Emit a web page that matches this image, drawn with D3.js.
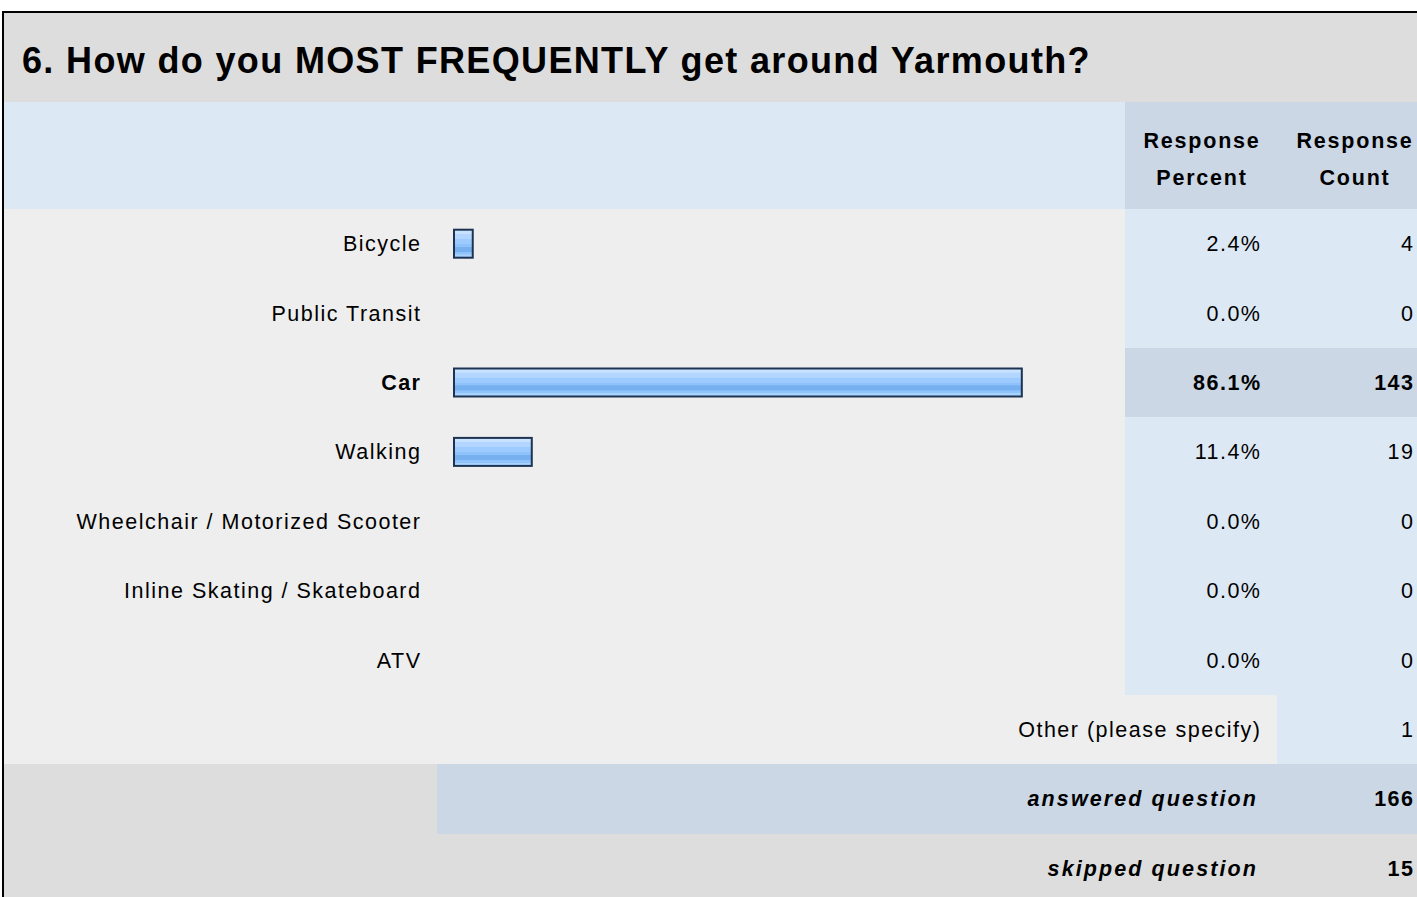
<!DOCTYPE html>
<html>
<head>
<meta charset="utf-8">
<script src="https://cdn.jsdelivr.net/npm/d3@7"></script>
<style>
  html, body { margin: 0; padding: 0; background: #ffffff; overflow: hidden; }
  svg { display: block; font-family: Helvetica, "Liberation Sans", Arial, sans-serif; }
  rect.bg { shape-rendering: crispEdges; }
</style>
</head>
<body>
<script>
// Survey question and answer data
const questionTitle = "6. How do you MOST FREQUENTLY get around Yarmouth?";
const categories = ["Bicycle", "Public Transit", "Car", "Walking",
  "Wheelchair / Motorized Scooter", "Inline Skating / Skateboard", "ATV"];
const percents = [2.4, 0.0, 86.1, 11.4, 0.0, 0.0, 0.0];
const counts = [4, 0, 143, 19, 0, 0, 0];
const columnHeaders = [["Response", "Percent"], ["Response", "Count"]];
const otherLabel = "Other (please specify)";
const otherCount = 1;
const answeredCount = 166;
const skippedCount = 15;

(function draw() {
  const W = 1417, H = 897;
  const svg = d3.select("body").append("svg").attr("width", W).attr("height", H);

  // Colours
  const C = {
    frame: "#000000",
    titleBg: "#dddddd",
    headBg: "#dde8f5",
    headCol: "#cbd7e5",
    rowBg: "#eeeeee",
    cellBg: "#dde8f5",
    cellHi: "#cbd7e5",
    text: "#000000",
    barStroke: "#1d3352"
  };

  // Layout
  const padL = 4, padT = 13, wide = 1440;
  const titleBottom = 102, headBottom = 209;
  const labelRight = 420, barX0 = 453;
  const pctX0 = 1125, cntX0 = 1277;
  const pctRight = 1260, cntRight = 1413;
  const fs = 21.5, ls = 1.5;

  // Row scale: seven categories, then "other", "answered", "skipped"
  const rowKeys = categories.concat(["__other", "__answered", "__skipped"]);
  const y = d3.scaleBand().domain(rowKeys).range([headBottom, headBottom + rowKeys.length * 69.4]);
  // Bar length scale (percent)
  const x = d3.scaleLinear().domain([0, 100]).range([0, 656]);

  const bg = (sel) => sel.append("rect").attr("class", "bg");

  // Bar gradient
  const defs = svg.append("defs");
  const grad = defs.append("linearGradient").attr("id", "barGrad")
    .attr("x1", 0).attr("y1", 0).attr("x2", 0).attr("y2", 1);
  [[0, "#c8e2ff"], [0.14, "#c8e2ff"], [0.15, "#b2d6ff"], [0.32, "#b2d6ff"], [0.33, "#9ecbff"],
   [0.5, "#9ecbff"], [0.51, "#90c3fc"], [0.6, "#90c3fc"], [0.61, "#76b0ef"], [0.78, "#76b0ef"],
   [0.79, "#8fc3fb"], [0.88, "#8fc3fb"], [0.89, "#a8d3ff"], [1, "#a8d3ff"]]
    .forEach(([o, c]) => grad.append("stop").attr("offset", o).attr("stop-color", c));

  // Frame
  bg(svg).attr("x", 2).attr("y", 11).attr("width", wide).attr("height", H).attr("fill", C.frame);

  // Title band
  bg(svg).attr("x", padL).attr("y", padT).attr("width", wide).attr("height", titleBottom - padT)
    .attr("fill", C.titleBg);
  svg.append("text").attr("x", 22).attr("y", 73)
    .attr("font-size", 36).attr("font-weight", "bold").attr("letter-spacing", 1.35)
    .attr("fill", C.text).text(questionTitle);

  // Header band
  bg(svg).attr("x", padL).attr("y", titleBottom).attr("width", wide).attr("height", headBottom - titleBottom)
    .attr("fill", C.headBg);
  bg(svg).attr("x", pctX0).attr("y", titleBottom).attr("width", wide).attr("height", headBottom - titleBottom)
    .attr("fill", C.headCol);
  const colCenters = [(pctX0 + cntX0) / 2, 1354];
  columnHeaders.forEach((lines, i) => {
    lines.forEach((t, j) => {
      svg.append("text").attr("x", colCenters[i] + 1).attr("y", 148 + j * 37)
        .attr("text-anchor", "middle").attr("font-size", fs).attr("font-weight", "bold")
        .attr("letter-spacing", 1.8).attr("fill", C.text).text(t);
    });
  });

  // Category rows
  const rows = svg.append("g").selectAll("g").data(categories.map((c, i) => ({
    name: c, pct: percents[i], count: counts[i]
  }))).join("g");
  const maxCount = d3.max(counts);
  const bh = y.bandwidth();
  const mid = d => y(d.name) + bh / 2;
  const weight = d => d.count === maxCount ? "bold" : "normal";

  bg(rows).attr("x", padL).attr("y", d => y(d.name)).attr("width", pctX0 - padL)
    .attr("height", bh + 1).attr("fill", C.rowBg);
  bg(rows).attr("x", pctX0).attr("y", d => y(d.name)).attr("width", wide)
    .attr("height", bh + 1).attr("fill", d => d.count === maxCount ? C.cellHi : C.cellBg);

  rows.append("text").attr("x", labelRight + ls).attr("y", d => mid(d) + 7.5)
    .attr("text-anchor", "end").attr("font-size", fs).attr("letter-spacing", ls)
    .attr("font-weight", weight).attr("fill", C.text).text(d => d.name);

  rows.filter(d => d.pct > 0).append("rect")
    .attr("x", barX0 + 1).attr("y", d => mid(d) - 14)
    .attr("width", d => x(d.pct) + 3).attr("height", 28)
    .attr("fill", "url(#barGrad)").attr("stroke", C.barStroke).attr("stroke-width", 2);

  rows.append("text").attr("x", pctRight + ls).attr("y", d => mid(d) + 7.5)
    .attr("text-anchor", "end").attr("font-size", fs).attr("letter-spacing", ls)
    .attr("font-weight", weight).attr("fill", C.text).text(d => d.pct.toFixed(1) + "%");
  rows.append("text").attr("x", cntRight + ls).attr("y", d => mid(d) + 7.5)
    .attr("text-anchor", "end").attr("font-size", fs).attr("letter-spacing", ls)
    .attr("font-weight", weight).attr("fill", C.text).text(d => d.count);

  // "Other" row
  const yo = y("__other");
  bg(svg).attr("x", padL).attr("y", yo).attr("width", cntX0 - padL).attr("height", bh + 1).attr("fill", C.rowBg);
  bg(svg).attr("x", cntX0).attr("y", yo).attr("width", wide).attr("height", bh + 1).attr("fill", C.cellBg);
  svg.append("text").attr("x", pctRight + ls).attr("y", yo + bh / 2 + 7.5).attr("text-anchor", "end")
    .attr("font-size", fs).attr("letter-spacing", ls).attr("fill", C.text).text(otherLabel);
  svg.append("text").attr("x", cntRight + ls).attr("y", yo + bh / 2 + 7.5).attr("text-anchor", "end")
    .attr("font-size", fs).attr("letter-spacing", ls).attr("fill", C.text).text(otherCount);

  // Answered / skipped summary rows
  const ya = y("__answered"), ys = y("__skipped");
  bg(svg).attr("x", padL).attr("y", ya).attr("width", wide).attr("height", H - ya).attr("fill", C.titleBg);
  bg(svg).attr("x", 437).attr("y", ya).attr("width", wide).attr("height", bh).attr("fill", C.cellHi);
  [[ya, "answered question", answeredCount], [ys, "skipped question", skippedCount]].forEach(([yy, label, n]) => {
    svg.append("text").attr("x", 1256 + 2).attr("y", yy + bh / 2 + 7.5).attr("text-anchor", "end")
      .attr("font-size", fs).attr("font-weight", "bold").attr("font-style", "italic")
      .attr("letter-spacing", 2.1).attr("fill", C.text).text(label);
    svg.append("text").attr("x", cntRight + ls).attr("y", yy + bh / 2 + 7.5).attr("text-anchor", "end")
      .attr("font-size", fs).attr("font-weight", "bold")
      .attr("letter-spacing", ls).attr("fill", C.text).text(n);
  });
})();
</script>
</body>
</html>
